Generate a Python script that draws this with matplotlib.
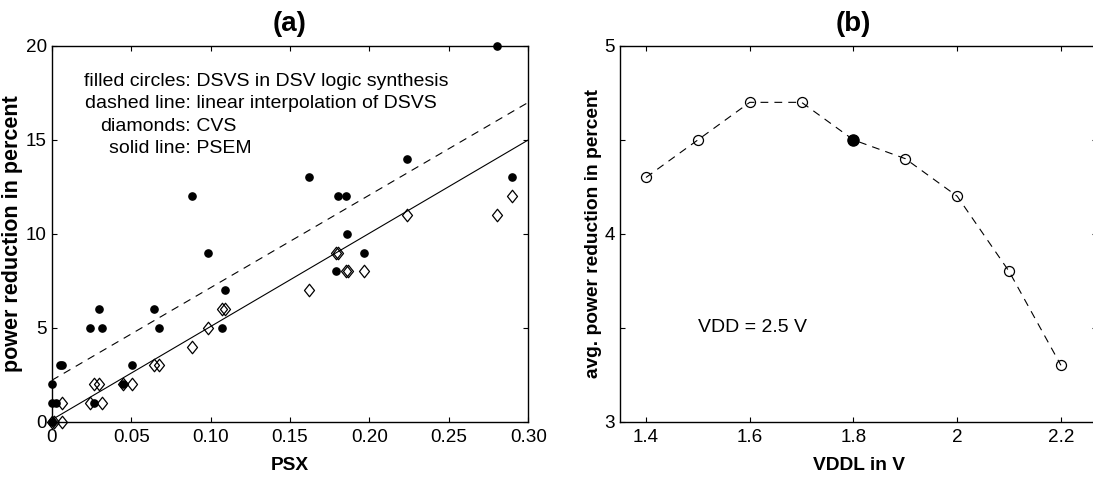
import matplotlib
matplotlib.use("Agg")
import matplotlib.pyplot as plt
from matplotlib.path import Path

plt.rcParams["font.family"] = ["Liberation Sans", "DejaVu Sans"]

# ---- panel (a): power reduction vs. PSX ----
dsvs_psx = [0.280, 0.0881, 0.1622, 0.180, 0.1853, 0.2235, 0.2896, 0.1859, 0.0986,
            0.1964, 0.1788, 0.1091, 0.0296, 0.0642, 0.0243, 0.0317, 0.0675, 0.107,
            0.0052, 0.0067, 0.0505, 0.0, 0.0447, 0.0, 0.0025, 0.0266, 0.0]
dsvs_red = [20, 12, 13, 12, 12, 14, 13, 10, 9,
            9, 8, 7, 6, 6, 5, 5, 5, 5,
            3, 3, 3, 2, 2, 1, 1, 1, 0]

cvs_psx = [0.2235, 0.280, 0.2896, 0.1788, 0.180, 0.1853, 0.1868, 0.1964, 0.1622,
           0.107, 0.1091, 0.0986, 0.0881, 0.0642, 0.0675, 0.0447, 0.0505, 0.0266,
           0.0296, 0.0243, 0.0317, 0.0067, 0.0, 0.0012, 0.0067]
cvs_red = [11, 11, 12, 9, 9, 8, 8, 8, 7,
           6, 6, 5, 4, 3, 3, 2, 2, 2,
           2, 1, 1, 1, 0, 0, 0]

fit_psx = [0.0, 0.30]
fit_dsvs = [2.2, 17.0]
fit_psem = [0.1, 15.0]

psx_ticks = [0, 0.05, 0.10, 0.15, 0.20, 0.25, 0.30]
psx_labels = ["0", "0.05", "0.10", "0.15", "0.20", "0.25", "0.30"]
red_ticks = [0, 5, 10, 15, 20]

legend_keys = ["filled circles:", "dashed line:", "diamonds:", "solid line:"]
legend_vals = ["DSVS in DSV logic synthesis", "linear interpolation of DSVS",
               "CVS", "PSEM"]

# ---- panel (b): average power reduction vs. VDDL ----
vddl = [1.4, 1.5, 1.6, 1.7, 1.8, 1.9, 2.0, 2.1, 2.2]
avg_red = [4.30, 4.50, 4.70, 4.70, 4.50, 4.40, 4.20, 3.80, 3.30]
chosen_vddl = 1.8

vddl_ticks = [1.4, 1.6, 1.8, 2.0, 2.2]
vddl_labels = ["1.4", "1.6", "1.8", "2", "2.2"]
avg_ticks = [3, 3.5, 4, 4.5, 5]
avg_labels = ["3", "", "4", "", "5"]

TICK_FS = 13.6
LABEL_FS = 13.8
TITLE_FS = 20

fig = plt.figure(figsize=(10.93, 4.78), dpi=100)

# tall diamond marker
diamond = Path([(0, 1), (0.8, 0), (0, -1), (-0.8, 0), (0, 1)],
               [Path.MOVETO, Path.LINETO, Path.LINETO, Path.LINETO, Path.CLOSEPOLY])


def style_axes(ax):
    for s in ax.spines.values():
        s.set_linewidth(1.0)
    ax.tick_params(direction="in", top=True, right=True, length=3.8, width=0.8,
                   labelsize=TICK_FS)
    ax.tick_params(axis="x", pad=5)
    ax.tick_params(axis="y", pad=3.5)


ax1 = fig.add_axes([0.0473, 0.1178, 0.4361, 0.786])
ax1.plot(fit_psx, fit_dsvs, color="black", lw=0.8, linestyle=(0, (7, 5.5)))
ax1.plot(fit_psx, fit_psem, color="black", lw=0.8)
ax1.plot(dsvs_psx, dsvs_red, linestyle="none", marker="o", markersize=5.2,
         markerfacecolor="black", markeredgecolor="black", clip_on=False)
ax1.plot(cvs_psx, cvs_red, linestyle="none", marker=diamond, markersize=9,
         markerfacecolor="none", markeredgecolor="black", markeredgewidth=0.9,
         clip_on=False)
ax1.set_xlim(0, 0.30)
ax1.set_ylim(0, 20)
ax1.set_xticks(psx_ticks)
ax1.set_xticklabels(psx_labels)
ax1.set_yticks(red_ticks)
style_axes(ax1)
ax1.set_xlabel("PSX", fontsize=LABEL_FS, fontweight="bold", labelpad=8)
ax1.set_ylabel("power reduction in percent", fontsize=15.5, fontweight="bold",
               labelpad=2)
ax1.set_title("(a)", fontsize=TITLE_FS, fontweight="bold", pad=11)

key_x = 0.0877
for i, (k, v) in enumerate(zip(legend_keys, legend_vals)):
    y = 17.88 - i * 1.195
    ax1.text(key_x, y, k, ha="right", va="baseline", fontsize=14)
    ax1.text(key_x, y, " " + v, ha="left", va="baseline", fontsize=14)

ax2 = fig.add_axes([0.5673, 0.1178, 0.4366, 0.786])
ax2.plot(vddl, avg_red, color="black", lw=0.8, linestyle=(0, (7, 5.5)),
         marker="o", markersize=7.2, markerfacecolor="none",
         markeredgecolor="black", markeredgewidth=0.9)
sel = vddl.index(chosen_vddl)
ax2.plot([vddl[sel]], [avg_red[sel]], linestyle="none", marker="o",
         markersize=8, markerfacecolor="black", markeredgecolor="black")
ax2.set_xlim(1.35, 2.27)
ax2.set_ylim(3, 5)
ax2.set_xticks(vddl_ticks)
ax2.set_xticklabels(vddl_labels)
ax2.set_yticks(avg_ticks)
ax2.set_yticklabels(avg_labels)
style_axes(ax2)
ax2.set_xlabel("VDDL in V", fontsize=LABEL_FS, fontweight="bold", labelpad=8)
ax2.set_ylabel("avg. power reduction in percent", fontsize=LABEL_FS,
               fontweight="bold", labelpad=2)
ax2.text(1.5, 3.5, "VDD = 2.5 V", ha="left", va="center", fontsize=14)
title_b = ax2.set_title("(b)", fontsize=TITLE_FS, fontweight="bold", pad=11)
title_b.set_x(0.4885)

fig.savefig("out.png", dpi=100)
